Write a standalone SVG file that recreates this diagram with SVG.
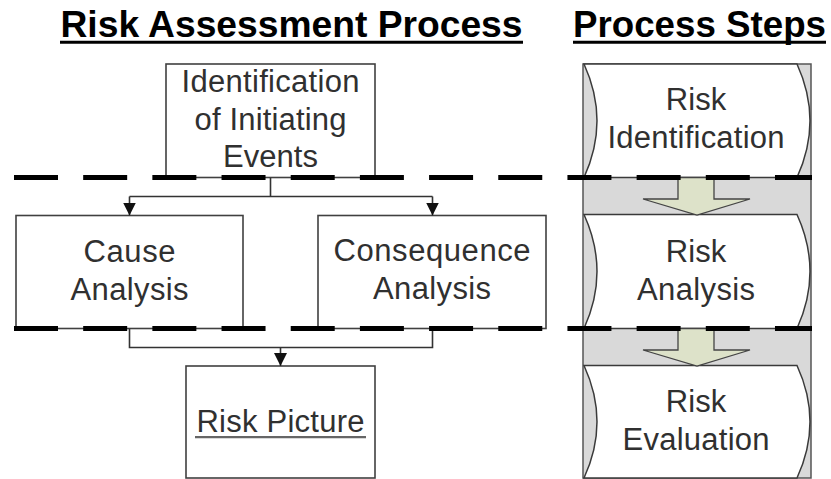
<svg xmlns="http://www.w3.org/2000/svg" width="831" height="479" viewBox="0 0 831 479">
  <defs>
    <style>
      .title { font-family: "Liberation Sans", Arial, sans-serif; font-weight: bold; font-size: 36px; fill: #000; }
      .lbl { font-family: "Liberation Sans", Arial, sans-serif; font-size: 31px; fill: #303030; text-anchor: middle; }
      .box { fill: #fff; stroke: #404040; stroke-width: 1.6; }
      .step { fill: #fff; stroke: #3a3a3a; stroke-width: 1.5; }
      .blk { fill: #dde2c9; stroke: #444; stroke-width: 1.3; stroke-linejoin: miter; }
      .conn { fill: none; stroke: #333; stroke-width: 1.6; }
      .phase { fill: none; stroke: #000; stroke-width: 5; stroke-dasharray: 44 25.18; }
    </style>
    <marker id="ah" viewBox="0 0 14 14" refX="14" refY="7" markerWidth="13" markerHeight="13" orient="auto" markerUnits="userSpaceOnUse">
      <path d="M0,0 L14,7 L0,14 Z" fill="#111"/>
    </marker>
  </defs>

  <rect width="831" height="479" fill="#fff"/>

  <!-- headings -->
  <g id="headings">
    <text class="title" x="60.5" y="37" textLength="462" lengthAdjust="spacingAndGlyphs">Risk Assessment Process</text>
    <line x1="60" y1="42.3" x2="523" y2="42.3" stroke="#000" stroke-width="3"/>
    <text class="title" x="573" y="37" textLength="253" lengthAdjust="spacingAndGlyphs">Process Steps</text>
    <line x1="573" y1="42.3" x2="826" y2="42.3" stroke="#000" stroke-width="3"/>
  </g>

  <!-- process-step column -->
  <g id="step-column">
    <rect x="583" y="64" width="228" height="414" fill="#d9d9d9" stroke="#555" stroke-width="1.5"/>
  </g>

  <g id="step-identification">
    <path class="step" d="M584,64 H797 Q823,120.75 797,177.5 H584 Q610,120.75 584,64 Z"/>
    <text class="lbl" x="696" y="110">Risk</text>
    <text class="lbl" x="696" y="148" textLength="177" lengthAdjust="spacing">Identification</text>
  </g>

  <g id="step-analysis">
    <path class="step" d="M584,214.5 H797 Q823,271.5 797,328.5 H584 Q610,271.5 584,214.5 Z"/>
    <text class="lbl" x="696" y="262">Risk</text>
    <text class="lbl" x="696" y="299.5" textLength="118" lengthAdjust="spacing">Analysis</text>
  </g>

  <g id="step-evaluation">
    <path class="step" d="M584,365.5 H797 Q823,421.75 797,478 H584 Q610,421.75 584,365.5 Z"/>
    <text class="lbl" x="696" y="412">Risk</text>
    <text class="lbl" x="696" y="449.5" textLength="147" lengthAdjust="spacing">Evaluation</text>
  </g>

  <g id="step-arrows">
    <polygon class="blk" points="678,177.5 714,177.5 714,199 750,199 697,215 643,199 678,199"/>
    <polygon class="blk" points="678,328.5 714,328.5 714,350 750,350 697,366 643,350 678,350"/>
  </g>

  <!-- assessment nodes -->
  <g id="initiating-events">
    <rect class="box" x="166" y="64" width="209" height="113.5"/>
    <text class="lbl" x="270.5" y="91.5" textLength="178" lengthAdjust="spacing">Identification</text>
    <text class="lbl" x="270.5" y="129.5" textLength="152" lengthAdjust="spacing">of Initiating</text>
    <text class="lbl" x="270.5" y="167" textLength="95" lengthAdjust="spacing">Events</text>
  </g>

  <g id="cause-analysis">
    <rect class="box" x="16" y="215.5" width="227" height="113"/>
    <text class="lbl" x="129.5" y="262" textLength="92" lengthAdjust="spacing">Cause</text>
    <text class="lbl" x="129.5" y="300" textLength="118" lengthAdjust="spacing">Analysis</text>
  </g>

  <g id="consequence-analysis">
    <rect class="box" x="318" y="215.5" width="228" height="113"/>
    <text class="lbl" x="432" y="261" textLength="197" lengthAdjust="spacing">Consequence</text>
    <text class="lbl" x="432" y="299" textLength="118" lengthAdjust="spacing">Analysis</text>
  </g>

  <g id="risk-picture">
    <rect class="box" x="186" y="366" width="189" height="112"/>
    <text class="lbl" x="280.5" y="431.5" textLength="168" lengthAdjust="spacing">Risk Picture</text>
    <line x1="195" y1="437.2" x2="366" y2="437.2" stroke="#666" stroke-width="2.2"/>
  </g>

  <!-- connectors -->
  <g id="connectors">
    <path class="conn" d="M270.5,177.5 V196.5 M129.5,196.5 H432.5"/>
    <path class="conn" d="M129.5,196.5 V215.5" marker-end="url(#ah)"/>
    <path class="conn" d="M432.5,196.5 V215.5" marker-end="url(#ah)"/>
    <path class="conn" d="M129.5,328.5 V347.5 H432.5 V328.5"/>
    <path class="conn" d="M280.5,347.5 V366" marker-end="url(#ah)"/>
  </g>

  <!-- phase boundaries -->
  <g id="phase-lines">
    <line class="phase" x1="14" y1="177.5" x2="812" y2="177.5"/>
    <line class="phase" x1="14" y1="328.5" x2="812" y2="328.5"/>
  </g>
</svg>
